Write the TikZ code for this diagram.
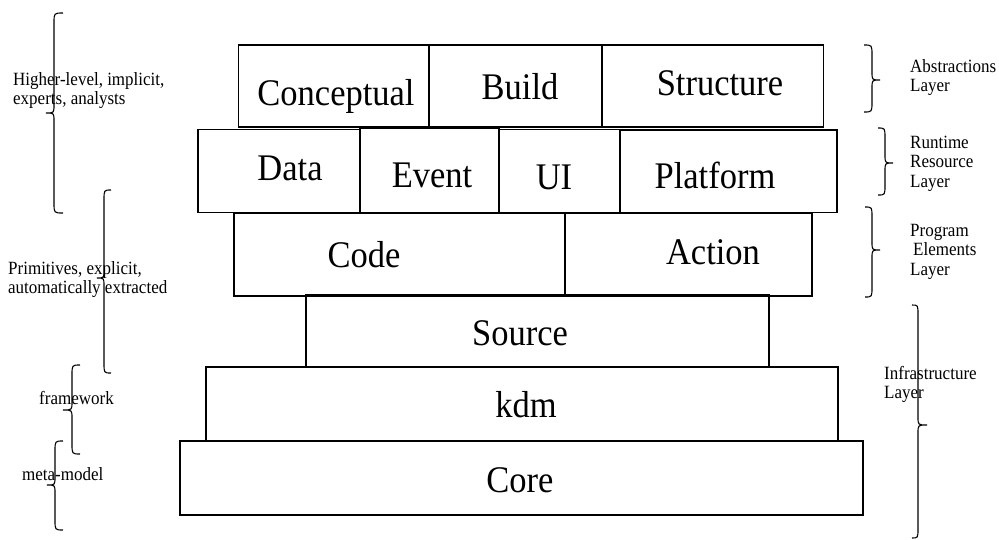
\documentclass[tikz,border=0pt]{standalone}
\usepackage{fontspec}
\setmainfont{Liberation Serif}
\usepackage{graphicx}
\newcommand{\ystretch}[2]{\scalebox{1}[#1]{#2}}
\newcommand{\layerbox}[5]{\node[box, minimum width={#4-#2}, minimum height={#5-#3}] (#1) at ({(#2+#4)/2},{(#3+#5)/2}) {};}
% brace: L line x, T tip x, E end x, y1 top, M tip y, y2 bottom
\newcommand{\bracel}[6]{\draw[bracestyle] (#3,#4) .. controls (#1,#4) .. (#1,#4+10) -- (#1,#5-8) .. controls (#1,#5) .. (#2,#5) .. controls (#1,#5) .. (#1,#5+8) -- (#1,#6-10) .. controls (#1,#6) .. (#3,#6);}
\begin{document}
\begin{tikzpicture}[x=1pt,y=-1pt,
  box/.style={draw, line width=1.1pt, inner sep=0pt, outer sep=0pt},
  bigtext/.style={inner sep=0pt, anchor=base, font=\fontsize{34.5}{36}\selectfont},
  sidetext/.style={inner sep=0pt, anchor=base west, font=\fontsize{17}{18}\selectfont},
  bracestyle/.style={line width=1.1pt}]
\useasboundingbox[fill=white] (0,0) rectangle (999,539);

% boxes
\layerbox{conceptual}{238.5}{45}{429}{127}
\layerbox{build}{429}{45}{602}{127}
\layerbox{structure}{602}{45}{823.5}{127}
\layerbox{data}{198}{129.5}{360}{212.5}
\layerbox{event}{360}{128}{499}{213}
\layerbox{ui}{499}{129.5}{620}{213}
\layerbox{platform}{620}{130}{837}{212.5}
\layerbox{code}{234}{213.5}{565}{296}
\layerbox{action}{565}{213.5}{812}{296}
\layerbox{source}{306}{295}{769}{367}
\layerbox{kdm}{206}{367}{838}{441}
\layerbox{core}{180}{441}{863}{515}

% box texts
\node[bigtext] (tconceptual) at (336,105) {\ystretch{1.09}{Conceptual}};
\node[bigtext] (tbuild) at (520,99) {\ystretch{1.09}{Build}};
\node[bigtext] (tstructure) at (720,95) {\ystretch{1.09}{Structure}};
\node[bigtext] (tdata) at (290,180) {\ystretch{1.09}{Data}};
\node[bigtext] (tevent) at (432,187) {\ystretch{1.09}{Event}};
\node[bigtext] (tui) at (554,189) {\ystretch{1.09}{UI}};
\node[bigtext] (tplatform) at (715,188) {\ystretch{1.09}{Platform}};
\node[bigtext] (tcode) at (364,267) {\ystretch{1.09}{Code}};
\node[bigtext] (taction) at (713,264) {\ystretch{1.09}{Action}};
\node[bigtext] (tsource) at (520,345) {\ystretch{1.09}{Source}};
\node[bigtext] (tkdm) at (526,417) {\ystretch{1.09}{kdm}};
\node[bigtext] (tcore) at (520,492) {\ystretch{1.09}{Core}};

% left braces and labels
\bracel{54}{46}{63}{13}{113}{213}
\bracel{104}{97}{111}{190}{278}{373}
\bracel{72}{63}{80}{365}{410}{454}
\bracel{55}{47}{63}{441}{485}{530}
\node[sidetext] (lhigher) at (13,85) {\ystretch{1.1}{\begin{tabular}[t]{@{}l@{}}Higher-level, implicit,\\experts, analysts\end{tabular}}};
\node[sidetext] (lprim) at (8,274) {\ystretch{1.1}{\begin{tabular}[t]{@{}l@{}}Primitives, explicit,\\automatically extracted\end{tabular}}};
\node[sidetext] (lframe) at (39,404) {\ystretch{1.1}{framework}};
\node[sidetext] (lmeta) at (22,480) {\ystretch{1.1}{meta-model}};

% right braces and labels
\bracel{872}{880}{864}{45}{80}{112}
\bracel{885}{893}{878}{128}{163}{195}
\bracel{872}{880}{865}{207}{250}{297}
\bracel{918}{927}{912}{305}{425}{538}
\node[sidetext] (rabs) at (910,72) {\ystretch{1.1}{\begin{tabular}[t]{@{}l@{}}Abstractions\\Layer\end{tabular}}};
\node[sidetext] (rrun) at (910,148) {\ystretch{1.1}{\begin{tabular}[t]{@{}l@{}}Runtime\\Resource\\Layer\end{tabular}}};
\node[sidetext] (rprog) at (910,236) {\ystretch{1.1}{\begin{tabular}[t]{@{}l@{}}Program\\\hspace{3pt}Elements\\Layer\end{tabular}}};
\node[sidetext] (rinfra) at (884,379) {\ystretch{1.1}{\begin{tabular}[t]{@{}l@{}}Infrastructure\\Layer\end{tabular}}};
\end{tikzpicture}
\end{document}
